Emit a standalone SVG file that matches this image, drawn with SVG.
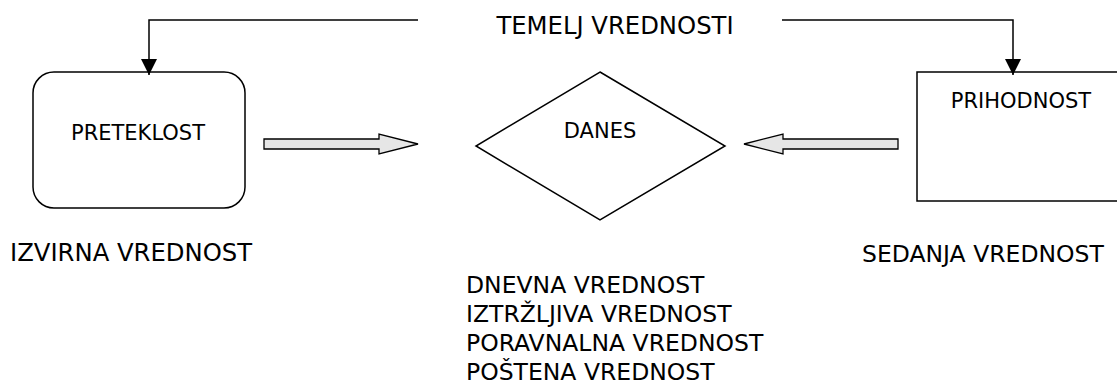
<svg xmlns="http://www.w3.org/2000/svg" width="1117" height="391" viewBox="0 0 1117 391">
<style>
text{font-family:"DejaVu Sans","Liberation Sans",sans-serif;fill:#000}
.big{font-size:23.5px}
.big2{font-size:24.3px}
.small{font-size:21px}
.shape{fill:#fff;stroke:#000;stroke-width:1.5}
.line{fill:none;stroke:#000;stroke-width:1.5}
.block{fill:#e6e6e6;stroke:#000;stroke-width:1.3}
</style>
<defs>
<marker id="ah" viewBox="0 0 16 18" refX="16" refY="8" markerWidth="16" markerHeight="18" markerUnits="userSpaceOnUse" orient="auto">
<path d="M0,0 L16,8 L0,16 Z" fill="#000"/>
</marker>
</defs>
<g id="preteklost">
<rect class="shape" x="33" y="72" width="212" height="136" rx="21" ry="21"/>
<text class="small" x="138" y="140" text-anchor="middle">PRETEKLOST</text>
</g>
<g id="danes">
<polygon class="shape" points="600,72 725,146 600,220 476,146"/>
<text class="small" x="600" y="138" text-anchor="middle">DANES</text>
</g>
<g id="prihodnost">
<rect class="shape" x="917" y="72" width="210" height="129"/>
<text class="small" x="1021" y="108" text-anchor="middle">PRIHODNOST</text>
</g>
<g id="temelj">
<text class="big2" x="615" y="34" text-anchor="middle">TEMELJ VREDNOSTI</text>
</g>
<g id="izvirna">
<text class="big2" x="10" y="261">IZVIRNA VREDNOST</text>
</g>
<g id="sedanja">
<text class="big" x="862" y="262">SEDANJA VREDNOST</text>
</g>
<g id="vrednosti">
<text class="big" x="466" y="293">DNEVNA VREDNOST</text>
<text class="big" x="466" y="322">IZTRŽLJIVA VREDNOST</text>
<text class="big" x="466" y="351">PORAVNALNA VREDNOST</text>
<text class="big" x="466" y="380">POŠTENA VREDNOST</text>
</g>
<g id="connectors">
<path class="line" d="M418,20 H149 V75" marker-end="url(#ah)"/>
<path class="line" d="M782,20 H1013 V75" marker-end="url(#ah)"/>
<path class="block" d="M264,139 H379 V134 L418,144 L379,154 V149 H264 Z"/>
<path class="block" d="M898,139 H783 V134 L744,144 L783,154 V149 H898 Z"/>
</g>
</svg>
